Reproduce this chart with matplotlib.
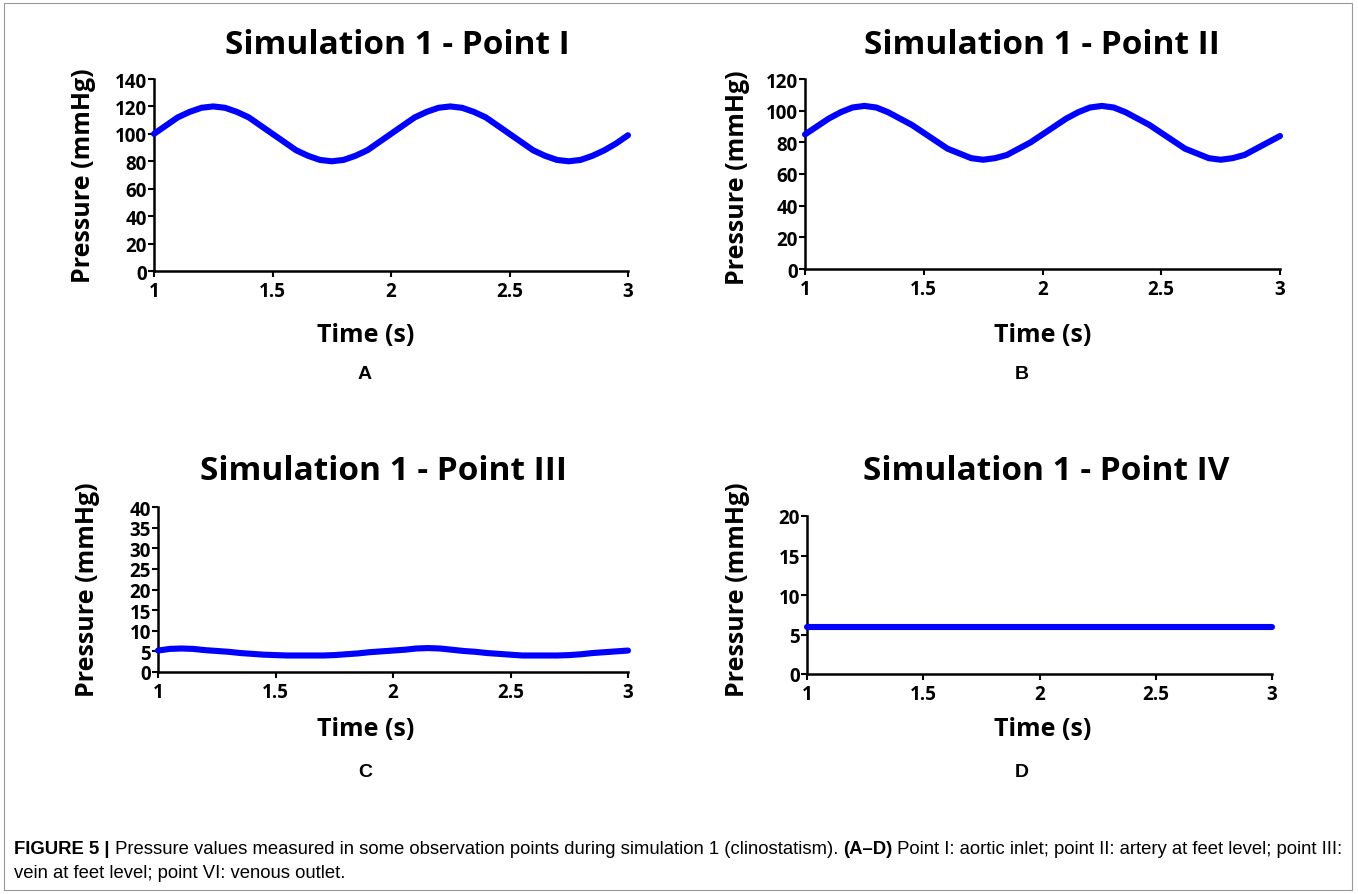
import matplotlib
matplotlib.use("Agg")
import matplotlib.pyplot as plt
from matplotlib.patches import Rectangle

# ---------------- data ----------------
time_s = [1.00, 1.05, 1.10, 1.15, 1.20, 1.25, 1.30, 1.35, 1.40, 1.45,
          1.50, 1.55, 1.60, 1.65, 1.70, 1.75, 1.80, 1.85, 1.90, 1.95,
          2.00, 2.05, 2.10, 2.15, 2.20, 2.25, 2.30, 2.35, 2.40, 2.45,
          2.50, 2.55, 2.60, 2.65, 2.70, 2.75, 2.80, 2.85, 2.90, 2.95, 3.00]

point_I = [100, 106, 112, 116, 119, 120, 119, 116, 112, 106,
           100, 94, 88, 84, 81, 80, 81, 84, 88, 94,
           100, 106, 112, 116, 119, 120, 119, 116, 112, 106,
           100, 94, 88, 84, 81, 80, 81, 84, 88, 93, 99]

point_II = [85, 90, 95, 99, 102, 103, 102, 99, 95, 91,
            86, 81, 76, 73, 70, 69, 70, 72, 76, 80,
            85, 90, 95, 99, 102, 103, 102, 99, 95, 91,
            86, 81, 76, 73, 70, 69, 70, 72, 76, 80, 84]

point_III = [5.2, 5.6, 5.7, 5.6, 5.3, 5.1, 4.9, 4.6, 4.4, 4.2,
             4.1, 4.0, 4.0, 4.0, 4.0, 4.1, 4.3, 4.5, 4.8, 5.0,
             5.2, 5.4, 5.7, 5.8, 5.7, 5.4, 5.1, 4.9, 4.6, 4.4,
             4.2, 4.0, 4.0, 4.0, 4.0, 4.1, 4.3, 4.6, 4.8, 5.0, 5.2]

point_IV = [6.0] * len(time_s)

titles = ["Simulation 1 - Point I", "Simulation 1 - Point II",
          "Simulation 1 - Point III", "Simulation 1 - Point IV"]
panel_letters = ["A", "B", "C", "D"]
y_ticks = [list(range(0, 141, 20)), list(range(0, 121, 20)),
           list(range(0, 41, 5)), list(range(0, 21, 5))]
x_ticks = [1, 1.5, 2, 2.5, 3]
x_tick_labels = ["1", "1.5", "2", "2.5", "3"]
series = [point_I, point_II, point_III, point_IV]

caption_bold = "FIGURE 5 |"
caption_l1 = (" Pressure values measured in some observation points during simulation 1 "
              "(clinostatism). ")
caption_bold2 = "(A–D)"
caption_l1b = " Point I: aortic inlet; point II: artery at feet level; point III:"
caption_l2 = "vein at feet level; point VI: venous outlet."

# ---------------- layout ----------------
W, H = 1358, 895
fig = plt.figure(figsize=(W / 100, H / 100), dpi=100)

# axes boxes in pixel coords (left, right, top, bottom)
boxes = [(154, 628, 80, 272), (805, 1280, 80, 270),
         (158, 628, 508, 673), (807, 1272, 517, 675)]
title_pos = [(397, 45), (1042, 45), (383, 472), (1046, 472)]
xlabel_pos = [(366, 335), (1043, 335), (366, 730), (1043, 730)]
ylabel_pos = [(84, 176), (737, 178), (88, 590), (737, 590)]
letter_pos = [(365, 375), (1022, 375), (365, 773), (1022, 773)]

FONT = "Open Sans"

def fx(x):
    return x / W

def fy(y):
    return 1 - y / H

for i in range(4):
    l, r, t, b = boxes[i]
    ax = fig.add_axes([fx(l), fy(b), (r - l) / W, (b - t) / H])
    ax.plot(time_s, series[i], color="#0000ff", lw=4.4, solid_capstyle="round",
            clip_on=False, zorder=3)
    ax.set_xlim(1, 3)
    ax.set_ylim(y_ticks[i][0], y_ticks[i][-1])
    ax.set_xticks(x_ticks)
    ax.set_xticklabels(x_tick_labels)
    ax.set_yticks(y_ticks[i])
    for s in ["top", "right"]:
        ax.spines[s].set_visible(False)
    for s in ["left", "bottom"]:
        ax.spines[s].set_linewidth(1.8)
        ax.spines[s].set_color("black")
    ax.tick_params(direction="out", length=4, width=1.5, labelsize=13.5)
    ax.tick_params(axis="x", pad=3)
    ax.tick_params(axis="y", pad=1)
    for lab in ax.get_xticklabels() + ax.get_yticklabels():
        lab.set_fontfamily(FONT)
        lab.set_fontweight("bold")

    fig.text(fx(title_pos[i][0]), fy(title_pos[i][1]), titles[i],
             ha="center", va="center", fontsize=24, fontweight="bold",
             family=FONT)
    fig.text(fx(xlabel_pos[i][0]), fy(xlabel_pos[i][1]), "Time (s)",
             ha="center", va="center", fontsize=18, fontweight="bold",
             family=FONT)
    fig.text(fx(ylabel_pos[i][0]), fy(ylabel_pos[i][1]), "Pressure (mmHg)",
             ha="center", va="center", fontsize=18, fontweight="bold",
             family=FONT, rotation=90)
    fig.text(fx(letter_pos[i][0]), fy(letter_pos[i][1]), panel_letters[i],
             ha="center", va="center", fontsize=14, fontweight="bold",
             family="Liberation Sans")

# caption
cap_font = ["Liberation Sans Narrow", "Liberation Sans", "DejaVu Sans"]
CAP_FS = 13.3
t1 = fig.text(fx(14), fy(850), caption_bold, ha="left", va="center",
              fontsize=CAP_FS, fontweight="bold", family=cap_font)
fig.canvas.draw()
rend = fig.canvas.get_renderer()

def after(txt, s, bold=False):
    bb = txt.get_window_extent(renderer=rend)
    return fig.text(bb.x1 / W, fy(850), s, ha="left", va="center", fontsize=CAP_FS,
                    fontweight="bold" if bold else "normal", family=cap_font)

t2 = after(t1, caption_l1)
t3 = after(t2, caption_bold2, bold=True)
t4 = after(t3, caption_l1b)
fig.text(fx(14), fy(874), caption_l2, ha="left", va="center",
         fontsize=CAP_FS, family=cap_font)

# frame
fig.patches.append(Rectangle((fx(4), fy(891)), (1352 - 4) / W, (891 - 4) / H,
                             transform=fig.transFigure, fill=False,
                             edgecolor="#999999", lw=0.8))

fig.savefig("out.png", dpi=100)
